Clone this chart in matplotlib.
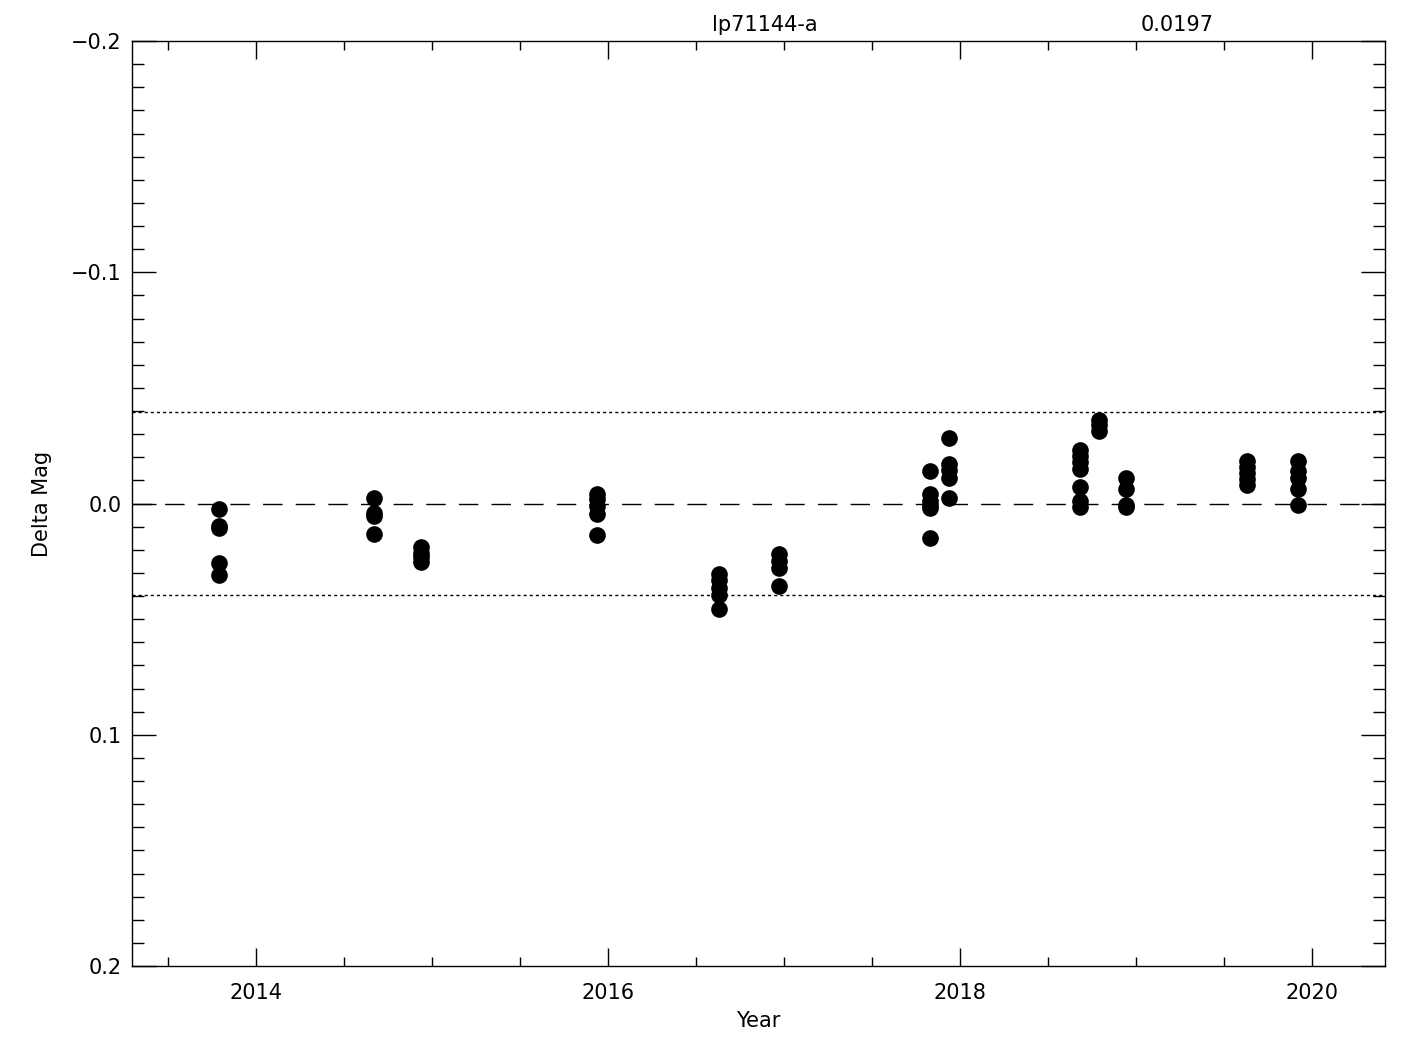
import matplotlib
matplotlib.use("Agg")
import matplotlib.pyplot as plt
from matplotlib.ticker import MultipleLocator, FixedLocator
import numpy as np

# ---- data ----
group_years = [2013.795, 2014.670, 2014.941, 2015.936, 2016.629, 2016.972,
               2017.830, 2017.936, 2018.679, 2018.787, 2018.942, 2019.629, 2019.917]
group_mags = [
    [0.0022, 0.0099, 0.0108, 0.0256, 0.0310],
    [-0.0024, 0.0040, 0.0052, 0.0132],
    [0.0190, 0.0212, 0.0233, 0.0254],
    [-0.0042, -0.0018, 0.0010, 0.0045, 0.0137],
    [0.0303, 0.0330, 0.0365, 0.0395, 0.0458],
    [0.0218, 0.0248, 0.0279, 0.0358],
    [-0.0141, -0.0040, -0.0010, 0.0005, 0.0018, 0.0149],
    [-0.0283, -0.0171, -0.0145, -0.0110, -0.0022],
    [-0.0231, -0.0205, -0.0180, -0.0150, -0.0070, -0.0010, 0.0014],
    [-0.0360, -0.0340, -0.0315],
    [-0.0109, -0.0061, 0.0005, 0.0014],
    [-0.0182, -0.0160, -0.0130, -0.0105, -0.0081],
    [-0.0183, -0.0140, -0.0110, -0.0063, 0.0007],
]
sigma = 0.0197
star_name = "lp71144-a"
xtick_years = [2014, 2016, 2018, 2020]
ytick_vals = [-0.2, -0.1, 0.0, 0.1, 0.2]
ytick_labels = ["\u22120.2", "\u22120.1", "0.0", "0.1", "0.2"]

years = np.concatenate([[y] * len(m) for y, m in zip(group_years, group_mags)])
mags = np.concatenate(group_mags)

# ---- figure ----
plt.rcParams['font.family'] = ['DejaVu Sans']
fig = plt.figure(figsize=(14.25, 10.5), dpi=100)
ax = fig.add_axes([131.5 / 1425, 1 - 966 / 1050, (1385.3 - 131.5) / 1425, (966 - 41) / 1050])

ax.plot(years, mags, 'o', color='black', markersize=12, markeredgewidth=0)

ax.axhline(0.0, color='black', lw=1.0, dashes=(14, 9.5))
ax.axhline(2 * sigma, color='black', lw=1.0, dashes=(2.2, 2.2))
ax.axhline(-2 * sigma, color='black', lw=1.0, dashes=(2.2, 2.2))

ax.set_xlim(2013.2955, 2020.415)
ax.set_ylim(0.2, -0.2)

ax.xaxis.set_major_locator(FixedLocator(xtick_years))
ax.xaxis.set_minor_locator(MultipleLocator(0.5))
ax.set_xticklabels([str(y) for y in xtick_years])
ax.yaxis.set_major_locator(FixedLocator(ytick_vals))
ax.yaxis.set_minor_locator(MultipleLocator(0.01))
ax.set_yticklabels(ytick_labels)

ax.tick_params(axis='both', which='both', direction='in', top=True, right=True,
               colors='black', labelsize=15, width=1.0)
ax.tick_params(axis='x', which='major', length=13, pad=12)
ax.tick_params(axis='x', which='minor', length=6.5)
ax.tick_params(axis='y', which='major', length=17, pad=7)
ax.tick_params(axis='y', which='minor', length=8.5)
for s in ax.spines.values():
    s.set_linewidth(1.0)

ax.set_xlabel("Year", fontsize=15, labelpad=6)
ax.set_ylabel("Delta Mag", fontsize=15, labelpad=14)

fig.text(765 / 1425, 1 - 25 / 1050, star_name, ha='center', va='center', fontsize=15)
fig.text(1177 / 1425, 1 - 25 / 1050, f"{sigma:.4f}", ha='center', va='center', fontsize=15)

fig.savefig("out.png", dpi=100)
